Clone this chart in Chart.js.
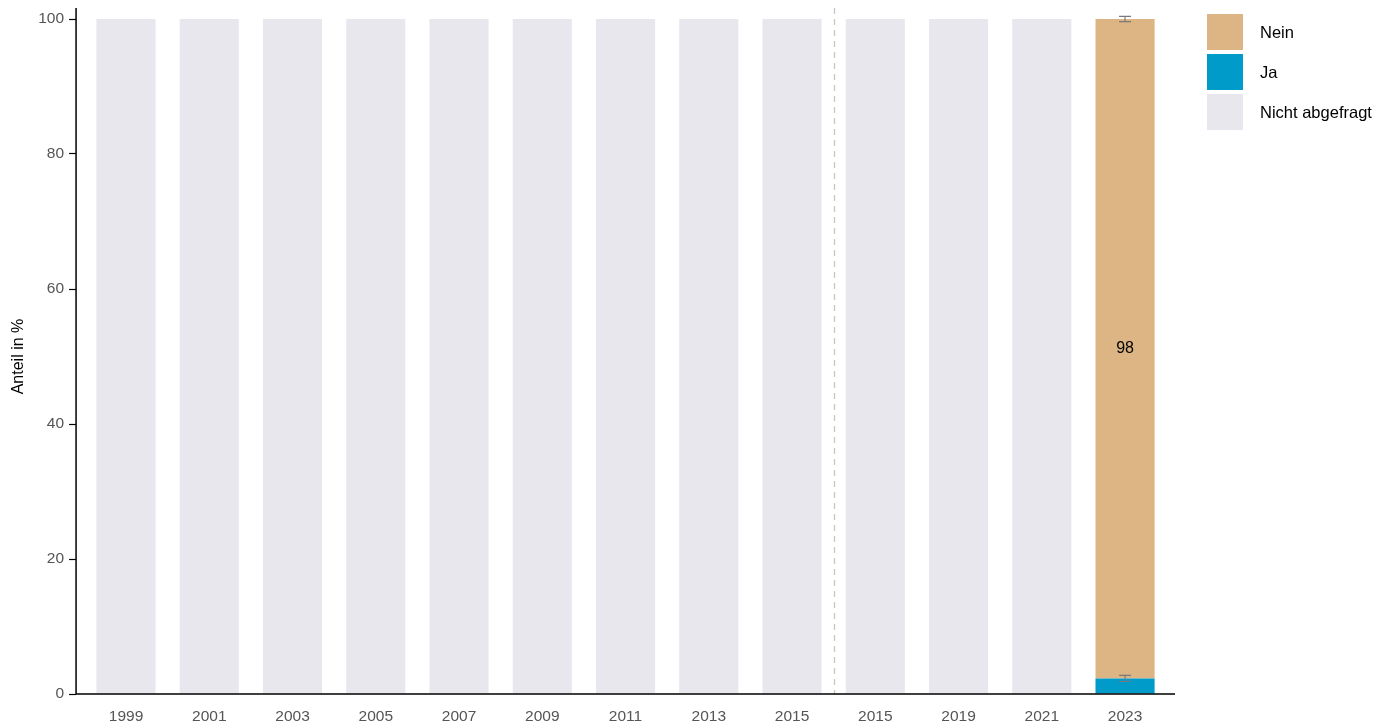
<!DOCTYPE html>
<html>
<head>
<meta charset="utf-8">
<script src="https://cdn.jsdelivr.net/npm/chart.js@4"></script>
<style>
  html, body { margin: 0; padding: 0; background: #fff; }
  #wrap { width: 1391px; height: 726px; }
</style>
</head>
<body>
<div id="wrap"><canvas id="myChart"></canvas></div>
<script>
const categories = ["1999","2001","2003","2005","2007","2009","2011","2013","2015","2015","2019","2021","2023"];
const nichtAbgefragt = [100,100,100,100,100,100,100,100,100,100,100,100,0];
const ja = [0,0,0,0,0,0,0,0,0,0,0,0,2.3];
const nein = [0,0,0,0,0,0,0,0,0,0,0,0,97.7];
const jaErr = [null,null,null,null,null,null,null,null,null,null,null,null,0.45];
const neinErr = [null,null,null,null,null,null,null,null,null,null,null,null,0.4];
const neinLabels = [null,null,null,null,null,null,null,null,null,null,null,null,"98"];
const breakAfter = 8.5;

const colors = { nein: "#ddb584", ja: "#009bc9", nicht: "#e8e7ee" };
const family = "'Liberation Sans', Arial, sans-serif";
const tickFont = { family: family, size: 15.5 };
const titleFont = { family: family, size: 16 };

const toPts = arr => arr.map((v, i) => ({ x: i, y: v }));

// axes lines, dashed break, error bars, value labels, legend
const extras = {
  id: "extras",
  afterDatasetsDraw(chart) {
    const ctx = chart.ctx;
    const xs = chart.scales.x, ys = chart.scales.y;
    const ca = chart.chartArea;
    ctx.save();

    // dashed break line
    const bx = Math.round(xs.getPixelForValue(breakAfter)) + 0.5;
    ctx.strokeStyle = "#c9c5c0";
    ctx.lineWidth = 1.3;
    ctx.setLineDash([6, 5]);
    ctx.beginPath();
    ctx.moveTo(bx, ca.top - 11);
    ctx.lineTo(bx, ca.bottom);
    ctx.stroke();
    ctx.setLineDash([]);

    // error bars
    ctx.strokeStyle = "#7a7a7a";
    ctx.lineWidth = 1.2;
    const drawErr = (i, center, err) => {
      const x = xs.getPixelForValue(i);
      const y1 = ys.getPixelForValue(center - err), y2 = ys.getPixelForValue(center + err);
      ctx.beginPath();
      ctx.moveTo(x, y1); ctx.lineTo(x, y2);
      ctx.moveTo(x - 6, y1); ctx.lineTo(x + 6, y1);
      ctx.moveTo(x - 6, y2); ctx.lineTo(x + 6, y2);
      ctx.stroke();
    };
    categories.forEach((c, i) => {
      if (jaErr[i] != null) drawErr(i, ja[i], jaErr[i]);
      if (neinErr[i] != null) drawErr(i, ja[i] + nein[i], neinErr[i]);
    });

    // value labels
    ctx.fillStyle = "#000";
    ctx.font = "16px " + family;
    ctx.textAlign = "center";
    ctx.textBaseline = "middle";
    neinLabels.forEach((t, i) => {
      if (t == null) return;
      ctx.fillText(t, xs.getPixelForValue(i), ys.getPixelForValue(ja[i] + nein[i] / 2));
    });

    // axis lines
    ctx.strokeStyle = "#000";
    ctx.lineWidth = 1.5;
    ctx.beginPath();
    ctx.moveTo(ca.left, ca.top - 11);
    ctx.lineTo(ca.left, ca.bottom);
    ctx.lineTo(ca.right, ca.bottom);
    ctx.stroke();

    // legend
    const items = [["Nein", colors.nein], ["Ja", colors.ja], ["Nicht abgefragt", colors.nicht]];
    ctx.textAlign = "left";
    ctx.font = "16.5px " + family;
    items.forEach((it, k) => {
      const top = 14 + k * 40;
      ctx.fillStyle = it[1];
      ctx.fillRect(1207, top, 36, 36);
      ctx.fillStyle = "#000";
      ctx.fillText(it[0], 1260, top + 19);
    });
    ctx.restore();
  }
};

const ctx = document.getElementById("myChart");
new Chart(ctx, {
  type: "bar",
  data: {
    datasets: [
      { label: "Ja", data: toPts(ja), backgroundColor: colors.ja },
      { label: "Nein", data: toPts(nein), backgroundColor: colors.nein },
      { label: "Nicht abgefragt", data: toPts(nichtAbgefragt), backgroundColor: colors.nicht }
    ]
  },
  plugins: [extras],
  options: {
    responsive: true,
    maintainAspectRatio: false,
    animation: false,
    layout: { padding: { top: 19, right: 216, left: 9, bottom: 0 } },
    datasets: { bar: { categoryPercentage: 1, barPercentage: 0.71, borderWidth: 0 } },
    plugins: { legend: { display: false }, tooltip: { enabled: false } },
    scales: {
      x: {
        type: "linear",
        stacked: true,
        offset: false,
        min: -0.6,
        max: 12.6,
        afterBuildTicks: s => { s.ticks = categories.map((c, i) => ({ value: i })); },
        afterFit: s => { s.height = 32; },
        ticks: { callback: (v) => categories[v], color: "#555", font: tickFont, padding: 6, autoSkip: false, maxRotation: 0 },
        grid: { display: false, drawOnChartArea: false, drawTicks: true, tickLength: 7, tickColor: "#000", tickWidth: 1.5 },
        border: { display: false }
      },
      y: {
        stacked: true,
        min: 0,
        max: 100,
        ticks: { stepSize: 20, color: "#555", font: tickFont, padding: 5 },
        grid: { display: true, drawOnChartArea: false, drawTicks: true, tickLength: 7, tickColor: "#000", tickWidth: 1.2 },
        border: { display: false },
        title: { display: true, text: "Anteil in %", color: "#000", font: titleFont, padding: { top: 0, bottom: 5 } }
      }
    }
  }
});
</script>
</body>
</html>
